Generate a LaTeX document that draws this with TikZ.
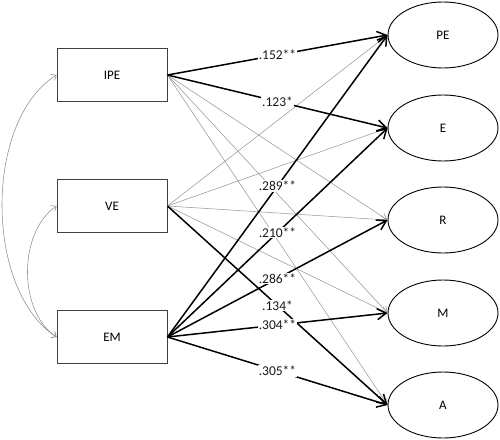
\documentclass[tikz,border=0pt]{standalone}
\usepackage{fontspec}
\setmainfont{Carlito}
\usetikzlibrary{shapes.geometric,arrows.meta}
\begin{document}
\begin{tikzpicture}[x=1pt,y=-1pt,
  box/.style={draw=black!75,line width=0.9pt,minimum width=110pt,minimum height=53pt,inner sep=0pt,font=\fontsize{13}{15}\selectfont},
  lat/.style={draw=black,ellipse,line width=0.9pt,minimum width=110pt,minimum height=66pt,inner sep=0pt,font=\fontsize{13}{15}\selectfont},
  sig/.style={draw=black,line width=1.5pt,-{Straight Barb[length=9pt,width=11pt,line width=1.5pt]}},
  ns/.style={draw=black!40,line width=0.55pt,-{Straight Barb[length=6pt,width=7pt]}},
  cov/.style={draw=black!45,line width=0.55pt,{Straight Barb[length=4pt,width=7pt]}-{Straight Barb[length=4pt,width=7pt]}},
  lbl/.style={fill=white,inner sep=1pt,text=black!90,font=\fontsize{13.5}{15}\selectfont}]
\useasboundingbox (0,0) rectangle (500,439);
\node[box] (IPE) at (112,75) {IPE};
\node[box] (VE) at (112,206) {VE};
\node[box] (EM) at (112,337) {EM};
\node[lat] (PE) at (443,35) {PE};
\node[lat] (E) at (443,128) {E};
\node[lat] (R) at (443,220) {R};
\node[lat] (M) at (443,313) {M};
\node[lat] (A) at (443,405) {A};
% covariances
\draw[cov] (IPE.west) .. controls (-16,120) and (-16,290) .. (EM.west);
\draw[cov] (VE.west) .. controls (18,232) and (18,312) .. (EM.west);
% non-significant paths
\draw[ns] (IPE.east) -- (R.west);
\draw[ns] (IPE.east) -- (M.west);
\draw[ns] (IPE.east) -- (A.west);
\draw[ns] (VE.east) -- (PE.west);
\draw[ns] (VE.east) -- (E.west);
\draw[ns] (VE.east) -- (R.west);
\draw[ns] (VE.east) -- (M.west);
% significant paths
\draw[sig] (IPE.east) -- (PE.west);
\draw[sig] (IPE.east) -- (E.west);
\draw[sig] (VE.east) -- (A.west);
\draw[sig] (EM.east) -- (PE.west);
\draw[sig] (EM.east) -- (E.west);
\draw[sig] (EM.east) -- (R.west);
\draw[sig] (EM.east) -- (M.west);
\draw[sig] (EM.east) -- (A.west);
% labels
\path (IPE.east) -- node[lbl] (l1) {.152**} (PE.west);
\path (IPE.east) -- node[lbl] (l2) {.123*} (E.west);
\path (EM.east) -- node[lbl] (l3) {.289**} (PE.west);
\path (EM.east) -- node[lbl] (l4) {.210**} (E.west);
\path (EM.east) -- node[lbl] (l5) {.286**} (R.west);
\path (VE.east) -- node[lbl] (l6) {.134*} (A.west);
\path (EM.east) -- node[lbl] (l7) {.304**} (M.west);
\path (EM.east) -- node[lbl] (l8) {.305**} (A.west);
\end{tikzpicture}
\end{document}
